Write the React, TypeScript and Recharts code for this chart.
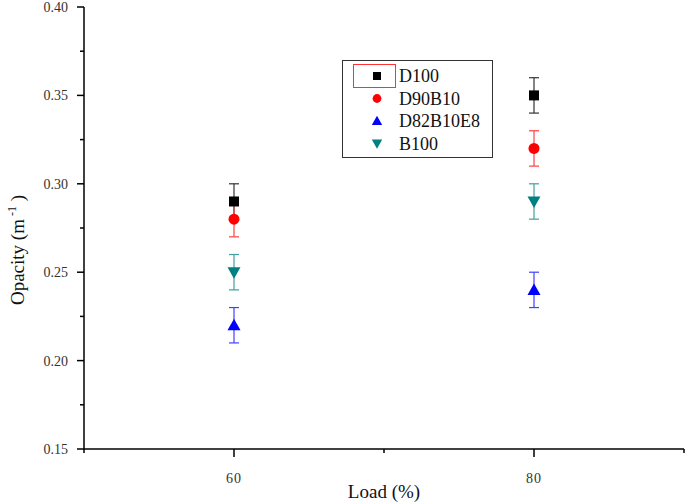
import { ScatterChart, Scatter, XAxis, YAxis, ErrorBar, Legend } from 'recharts';

// load levels (%)
const loads = [60, 80];

// opacity (m^-1) for each fuel, with ± error
const d100 = [0.29, 0.35];
const d90b10 = [0.28, 0.32];
const d82b10e8 = [0.22, 0.24];
const b100 = [0.25, 0.29];
const errD100 = [0.01, 0.01];
const errD90b10 = [0.01, 0.01];
const errD82b10e8 = [0.01, 0.01];
const errB100 = [0.01, 0.01];

const names = ['D100', 'D90B10', 'D82B10E8', 'B100'];
const colors = ['#000000', '#ff0000', '#0000ff', '#008080'];
const errColors = ['#333333', '#ff4040', '#4040ff', '#40a0a0'];
const shapes = ['square', 'circle', 'up', 'down'];

const xTicks = [50, 60, 70, 80, 90];
const xLabels = [60, 80];
const yTicks = [0.15, 0.175, 0.2, 0.225, 0.25, 0.275, 0.3, 0.325, 0.35, 0.375, 0.4];

const build = (vals: number[], errs: number[]) =>
  loads.map((load, i) => ({ load, value: vals[i], err: errs[i] }));

const seriesData = [
  build(d100, errD100),
  build(d90b10, errD90b10),
  build(d82b10e8, errD82b10e8),
  build(b100, errB100),
];

const FONT = 'Liberation Serif, serif';
const TICK_SIZE = 8;
const TICK_MARGIN = 4;

function Marker({ kind, cx, cy, color, s = 1 }: any) {
  if (kind === 'square') {
    const h = 5 * s;
    return <rect x={cx - h} y={cy - h} width={2 * h} height={2 * h} fill={color} />;
  }
  if (kind === 'circle') {
    return <circle cx={cx} cy={cy} r={5.5 * s} fill={color} />;
  }
  if (kind === 'up') {
    const w = 6.5 * s;
    return <polygon points={`${cx - w},${cy + 5 * s} ${cx + w},${cy + 5 * s} ${cx},${cy - 6.5 * s}`} fill={color} />;
  }
  const w = 6.5 * s;
  return <polygon points={`${cx - w},${cy - 5 * s} ${cx + w},${cy - 5 * s} ${cx},${cy + 6.5 * s}`} fill={color} />;
}

const isMajor = (v: number) => Math.abs(v * 20 - Math.round(v * 20)) < 1e-6;

function YTick(props: any) {
  const { x, y, payload } = props;
  const v = payload.value;
  const major = isMajor(v);
  const ax = x + TICK_SIZE + TICK_MARGIN;
  return (
    <g>
      <line x1={ax} x2={ax - (major ? 7 : 4)} y1={y} y2={y} stroke="#000" strokeWidth={1.5} />
      {major && (
        <text x={ax - 16} y={y + 5} textAnchor="end" fontSize={14} fill="#333" style={{ fontFamily: FONT }}>
          {v.toFixed(2)}
        </text>
      )}
    </g>
  );
}

function XTick(props: any) {
  const { x, y, payload } = props;
  const v = payload.value;
  const major = xLabels.includes(v);
  const ay = y - TICK_SIZE - TICK_MARGIN;
  return (
    <g>
      <line x1={x} x2={x} y1={ay} y2={ay + (major ? 8 : 4)} stroke="#000" strokeWidth={1.5} />
      {major && (
        <text x={x} y={ay + 34} textAnchor="middle" fontSize={14} fill="#333" letterSpacing={1} style={{ fontFamily: FONT }}>
          {v}
        </text>
      )}
    </g>
  );
}

function XTitle({ viewBox }: any) {
  const { x, y, width } = viewBox;
  return (
    <text x={x + width / 2} y={y + 49} textAnchor="middle" fontSize={19} fill="#111" style={{ fontFamily: FONT }}>
      Load (%)
    </text>
  );
}

function YTitle() {
  return (
    <text transform="translate(24,250) rotate(-90)" textAnchor="middle" fontSize={19} fill="#111" style={{ fontFamily: FONT }}>
      Opacity (m
      <tspan dy={-8} fontSize={12}> -1</tspan>
      <tspan dy={8}> )</tspan>
    </text>
  );
}

function LegendBox() {
  return (
    <svg width={151} height={98} style={{ display: 'block', fontFamily: FONT }}>
      <rect x={0.5} y={0.5} width={150} height={97} fill="#fff" stroke="#333" strokeWidth={1} />
      <rect x={11.5} y={4.5} width={42} height={23} fill="none" stroke="#ff3333" strokeWidth={1} />
      {names.map((n, i) => {
        const cy = 16 + i * 22.5;
        return (
          <g key={n}>
            <Marker kind={shapes[i]} cx={35} cy={cy} color={colors[i]} s={0.8} />
            <text x={57} y={cy + 6} fontSize={18} fill="#111" style={{ fontFamily: FONT }}>
              {n}
            </text>
          </g>
        );
      })}
    </svg>
  );
}

export default function App() {
  return (
    <div style={{ position: 'absolute', left: 0, top: 0, background: '#fff' }}>
      <ScatterChart width={685} height={504} margin={{ top: 7, right: 1, left: 0, bottom: 0 }}>
        <XAxis
          type="number"
          dataKey="load"
          domain={[50, 90]}
          ticks={xTicks}
          interval={0}
          height={55}
          tickSize={TICK_SIZE}
          tickMargin={TICK_MARGIN}
          tickLine={false}
          axisLine={{ stroke: '#000', strokeWidth: 1.5 }}
          tick={<XTick />}
          label={<XTitle />}
        />
        <YAxis
          type="number"
          dataKey="value"
          domain={[0.15, 0.4]}
          ticks={yTicks}
          interval={0}
          width={84}
          tickSize={TICK_SIZE}
          tickMargin={TICK_MARGIN}
          tickLine={false}
          axisLine={{ stroke: '#000', strokeWidth: 1.5 }}
          tick={<YTick />}
          label={<YTitle />}
        />
        <Legend
          layout="vertical"
          align="center"
          verticalAlign="middle"
          content={() => <LegendBox />}
          wrapperStyle={{ position: 'absolute', left: 342, top: 60, width: 151, height: 98, margin: 0, padding: 0 }}
        />
        {seriesData.map((data, i) => (
          <Scatter
            key={names[i]}
            name={names[i]}
            data={data}
            fill={colors[i]}
            isAnimationActive={false}
            shape={(p: any) => <Marker kind={shapes[i]} cx={p.cx} cy={p.cy} color={colors[i]} />}
          >
            <ErrorBar
              dataKey="err"
              direction="y"
              width={5}
              stroke={errColors[i]}
              strokeWidth={1.2}
              isAnimationActive={false}
            />
          </Scatter>
        ))}
      </ScatterChart>
    </div>
  );
}
